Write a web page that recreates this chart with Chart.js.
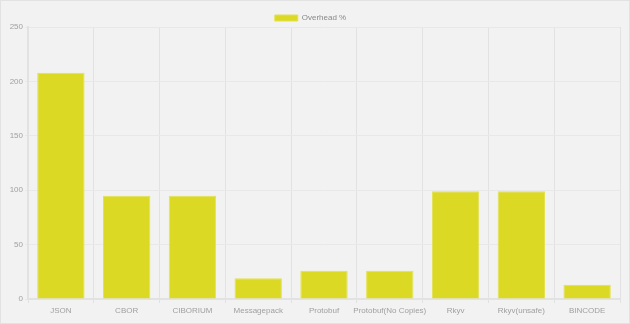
<!DOCTYPE html>
<html>
<head>
<meta charset="utf-8">
<script src="https://cdn.jsdelivr.net/npm/chart.js@4"></script>
<style>
  html, body { margin: 0; padding: 0; background: #f2f2f2; }
  .wrap { position: relative; width: 628px; height: 322px; border: 1px solid #e2e2e2; }
</style>
</head>
<body>
<div class="wrap"><canvas id="overheadChart"></canvas></div>
<script>
// overhead per serializer
const labels = ['JSON', 'CBOR', 'CIBORIUM', 'Messagepack', 'Protobuf', 'Protobuf(No Copies)', 'Rkyv', 'Rkyv(unsafe)', 'BINCODE'];
const overhead = [208, 95, 95, 19, 26, 26, 99, 99, 13];
const yTicks = [0, 50, 100, 150, 200, 250];

Chart.defaults.font.family = '"Liberation Sans", Arial, sans-serif';
Chart.defaults.font.size = 8;
Chart.defaults.color = '#a0a0a0';

// pull the plot a little closer to the legend
const tightLegend = {
  id: 'tightLegend',
  beforeInit(chart) {
    const fit = chart.legend.fit;
    chart.legend.fit = function () {
      fit.bind(chart.legend)();
      this.height -= 5;
    };
  },
};

const ctx = document.getElementById('overheadChart').getContext('2d');
new Chart(ctx, {
  type: 'bar',
  data: {
    labels: labels,
    datasets: [{
      label: 'Overhead %',
      data: overhead,
      backgroundColor: '#dbd924',
      borderColor: '#e3e150',
      borderWidth: 1,
    }],
  },
  options: {
    responsive: true,
    maintainAspectRatio: false,
    animation: false,
    layout: { padding: { left: 0, right: 9, top: 12, bottom: 0 } },
    plugins: {
      legend: {
        labels: { boxWidth: 23, boxHeight: 6, color: '#888', padding: 1 },
      },
      tooltip: { enabled: false },
    },
    scales: {
      x: {
        grid: { color: '#e2e2e2', tickLength: 4 },
        border: { color: '#e2e2e2', width: 2 },
        ticks: { color: '#a0a0a0', padding: 3, maxRotation: 0, minRotation: 0, autoSkip: false },
        afterFit: (s) => { s.height = 24; },
      },
      y: {
        min: 0,
        max: 250,
        afterBuildTicks: (s) => { s.ticks = yTicks.map((v) => ({ value: v })); },
        grid: { color: '#e8e8e8', tickLength: 3 },
        border: { color: '#e2e2e2', width: 2 },
        ticks: { color: '#a0a0a0', padding: 2 },
        afterFit: (s) => { s.width = 27; },
      },
    },
  },
  plugins: [tightLegend],
});
</script>
</body>
</html>
